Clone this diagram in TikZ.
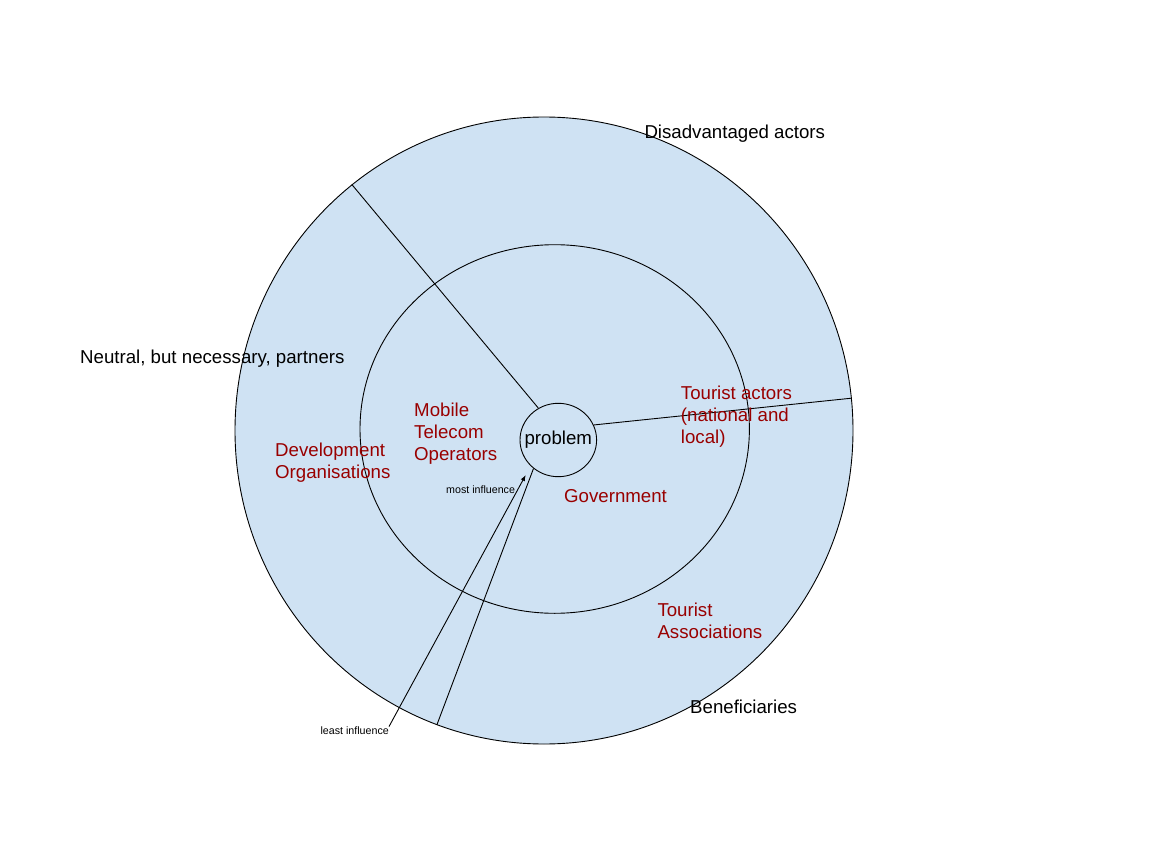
\documentclass[tikz,border=0pt]{standalone}
\usepackage{fontspec}
\setmainfont{Liberation Sans}
\usetikzlibrary{shapes.geometric,arrows.meta}
\definecolor{ringblue}{HTML}{CFE2F3}
\definecolor{actorred}{HTML}{990000}
\tikzset{
  ring/.style={ellipse, draw=black, line width=0.9pt, inner sep=0pt},
  bigtext/.style={anchor=west, inner sep=0pt, yshift=-2pt, align=left, font=\fontsize{18.67}{22}\selectfont},
  actor/.style={bigtext, text=actorred},
  smalltext/.style={inner sep=0pt, font=\fontsize{10.67}{12}\selectfont},
  link/.style={line width=0.9pt}
}
\begin{document}
\begin{tikzpicture}[x=1pt, y=-1pt]
  \useasboundingbox (0,0) rectangle (1152,864);

  \node[ring, fill=ringblue, minimum width=618pt, minimum height=627pt] (outer) at (544,430.5) {}; % outer
  \node[ring, minimum width=389.4pt, minimum height=368.6pt] (inner) at (554.7,429) {}; % inner
  \node[ring, fill=ringblue, inner xsep=-8pt, minimum width=76.6pt, minimum height=73.4pt,
        font=\fontsize{18.67}{22}\selectfont] (problem) at (558.3,440) {problem}; % centre

  \draw[link] (problem.122) -- (outer.128);
  \draw[link] (problem.23) -- (outer.6);
  \draw[link] (problem.229) -- (outer.250);

  \coordinate (tip) at (525.7,475);
  \node[smalltext, anchor=east] (least) at (389,730.7) {least influence};
  \node[smalltext, anchor=west] (most) at (446,489.3) {most influence};
  \draw[link, -{Latex[length=6pt,width=4.5pt]}] (least.north east) -- (tip);

  \node[bigtext] (disadv) at (644.3,131.7) {Disadvantaged actors};
  \node[bigtext] (neutral) at (80,357) {Neutral, but necessary, partners};
  \node[bigtext] (benef) at (690,705) {Beneficiaries};

  \node[actor] (mobile) at (414,432) {Mobile\\Telecom\\Operators};
  \node[actor] (devorg) at (275,461) {Development\\Organisations};
  \node[actor] (tourist) at (680.7,415) {Tourist actors\\(national and\\local)};
  \node[actor] (gov) at (564,494) {Government};
  \node[actor] (assoc) at (657.3,619) {Tourist\\Associations};
\end{tikzpicture}
\end{document}
